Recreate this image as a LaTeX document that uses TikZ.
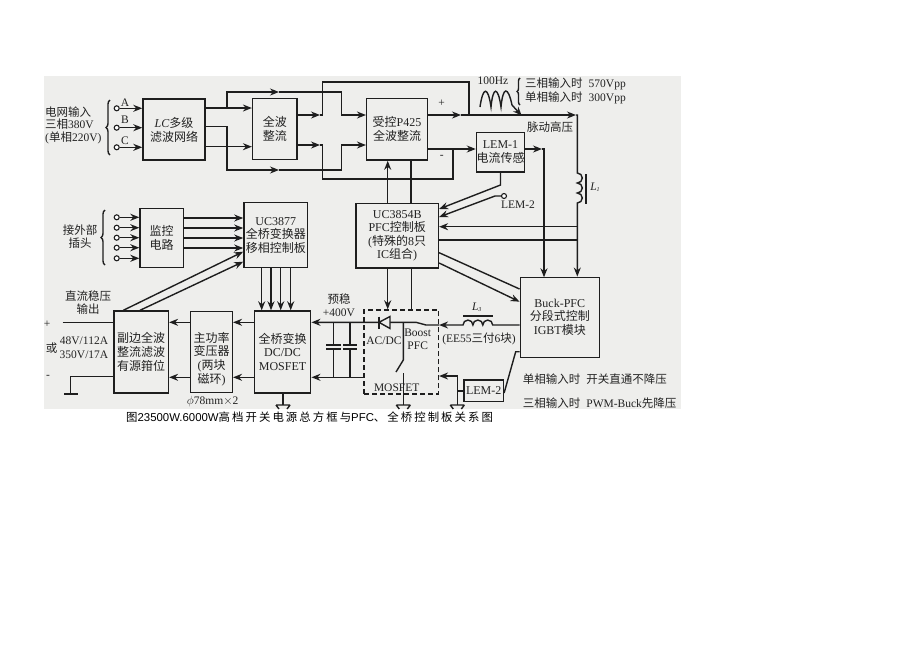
\documentclass[tikz,border=0pt]{standalone}
\usepackage{fontspec}
\setmainfont{Liberation Serif}
\newfontfamily\cjk{Noto Sans CJK SC}
\newfontfamily\capcjk[LetterSpace=18]{Noto Sans CJK SC}
\newfontfamily\capfont{Liberation Sans}
\usepackage{xcolor}
\usepackage{tikz}
\usetikzlibrary{arrows.meta, decorations.pathreplacing}
\definecolor{panelc}{HTML}{EEEEEC}
\definecolor{inkc}{HTML}{1E1E1E}
\definecolor{textc}{HTML}{222222}

\begin{document}
\begin{tikzpicture}[x=1pt, y=-1pt, >={Stealth[length=9pt,width=7pt]}]
\tikzstyle{blockbox}=[rectangle, draw=inkc, line width=1.5pt, inner sep=0pt, align=center, text=textc, font=\fontsize{12}{13.6}\selectfont]
\tikzstyle{tag}=[inner sep=0pt, align=center, text=textc, font=\fontsize{11.5}{13}\selectfont]
\tikzstyle{term}=[circle, draw=inkc, line width=1.1pt, fill=white, inner sep=0pt, minimum size=5pt]
\tikzstyle{line}=[draw=inkc, line width=1.4pt]
\tikzstyle{arrow}=[->, line]
\tikzset{gnd/.pic={\draw[line] (-7,0) -- (7,0) (-7,0) -- (-4,4) (7,0) -- (4,4);}}

\useasboundingbox (0,0) rectangle (920,651);
\fill[panelc] (44,76) rectangle (681,409);

\node[blockbox, minimum width=62, minimum height=61] (lc) at (174,129.7) {\textit{LC}{\cjk 多级}\\{\cjk 滤波网络}};
\node[blockbox, minimum width=44.3, minimum height=61.4] (rect) at (274.8,129) {\cjk 全波\\\cjk 整流};
\node[blockbox, minimum width=60.6, minimum height=61.7] (ctrl) at (397,129.2) {{\cjk 受控}P425\\{\cjk 全波整流}};
\node[blockbox, minimum width=47.6, minimum height=39.7] (lemone) at (500.5,152.2) {LEM-1\\{\cjk 电流传感}};
\node[blockbox, minimum width=82.3, minimum height=64.7] (pfcboard) at (397.2,235.7) {UC3854B\\PFC{\cjk 控制板}\\({\cjk 特殊的}8{\cjk 只}\\IC{\cjk 组合})};
\node[blockbox, minimum width=43.3, minimum height=59.4] (monitor) at (161.7,238) {\cjk 监控\\\cjk 电路};
\node[blockbox, minimum width=63.7, minimum height=65] (phase) at (275.8,235.2) {UC3877\\{\cjk 全桥变换器}\\{\cjk 移相控制板}};
\node[blockbox, minimum width=79, minimum height=80] (igbt) at (559.8,317.3) {Buck-PFC\\{\cjk 分段式控制}\\IGBT{\cjk 模块}};
\node[blockbox, minimum width=56.4, minimum height=81.7] (bridge) at (282.5,351.9) {\cjk 全桥变换\\DC/DC\\MOSFET};
\node[blockbox, minimum width=41.6, minimum height=81.4] (trans) at (211.5,352) {\rule{0pt}{24pt}{\cjk 主功率}\\{\cjk 变压器}\\({\cjk 两块}\\{\cjk 磁环})};
\node[blockbox, minimum width=54.3, minimum height=81.7] (second) at (141.2,351.9) {\cjk 副边全波\\\cjk 整流滤波\\{\cjk 有源箝位}};
\node[blockbox, minimum width=39.3, minimum height=21.7] (lemtwo) at (483.7,390.8) {LEM-2};
\node[rectangle, draw=inkc, line width=1.4pt, dash pattern=on 5pt off 3pt, minimum width=74.3, minimum height=84, inner sep=0pt] (dash) at (401.2,352) {};

\node[term] (ina) at (116.7,108.3) {};
\node[term] (inb) at (116.7,127.7) {};
\node[term] (inc) at (116.7,147.3) {};
\node[term] (ext1) at (116.7,217.3) {};
\node[term] (ext2) at (116.7,227.7) {};
\node[term] (ext3) at (116.7,237.7) {};
\node[term] (ext4) at (116.7,247.7) {};
\node[term] (ext5) at (116.7,258.3) {};
\node[term] (lemtwopt) at (504,196) {};

\node[tag, anchor=west] (grid1) at (45,111.7) {\cjk 电网输入};
\node[tag, anchor=west] (grid2) at (45,124.5) {{\cjk 三相}380V};
\node[tag, anchor=west] (grid3) at (45,138) {({\cjk 单相}220V)};
\node[tag] (laba) at (125,103) {A};
\node[tag] (labb) at (125,120) {B};
\node[tag] (labc) at (125,140.7) {C};
\node[tag] (extlab) at (80,237) {\cjk 接外部\\\cjk 插头};
\node[tag] (hz) at (493,80.7) {100Hz};
\node[tag, anchor=west] (vthree) at (525,84) {{\cjk 三相输入时}\hspace{6pt}570Vpp};
\node[tag, anchor=west] (vone) at (525,98) {{\cjk 单相输入时}\hspace{6pt}300Vpp};
\node[tag] (plus) at (441.7,103) {+};
\node[tag] (minus) at (441.7,156.7) {-};
\node[tag] (pulse) at (550,127) {\cjk 脉动高压};
\node[tag] (lsup) at (595,187) {\textit{L}\raisebox{-1pt}{\fontsize{6}{6}\selectfont\textit{1}}};
\node[tag] (lemtwotag) at (518,205) {LEM-2};
\node[tag] (dcout) at (88,303) {\cjk 直流稳压\\\cjk 输出};
\node[tag] (outplus) at (47,324) {+};
\node[tag] (outminus) at (48,376.7) {-};
\node[tag] (outor) at (51.7,348) {\cjk 或};
\node[tag] (outa) at (84,340.7) {48V/112A};
\node[tag] (outb) at (84,355) {350V/17A};
\node[tag] (phi) at (212.7,401) {$\phi$78mm$\times$2};
\node[tag] (preset) at (339,305) {{\cjk 预稳}\\+400V};
\node[tag] (acdc) at (384,340.7) {AC/DC};
\node[tag] (boost) at (417.7,339) {Boost\\PFC};
\node[tag] (mosfet) at (396.7,388) {MOSFET};
\node[tag] (lthree) at (476.7,307) {\textit{L}\raisebox{-1pt}{\fontsize{6}{6}\selectfont\textit{3}}};
\node[tag] (core) at (479,339) {(EE55{\cjk 三付}6{\cjk 块})};
\node[tag, anchor=west] (oneph) at (522.7,379.3) {{\cjk 单相输入时}\hspace{6pt}{\cjk 开关直通不降压}};
\node[tag, anchor=west] (threeph) at (522.7,402.7) {{\cjk 三相输入时}\hspace{6pt}PWM-Buck{\cjk 先降压}};
\node[anchor=west, inner sep=0pt, text=black, font=\fontsize{11.4}{13}\selectfont] (cap) at (126,417) {{\capcjk 图}{\capfont 23500W.6000W}{\capcjk 高档开关电源总方框与}{\capfont PFC}{\capcjk 、全桥控制板关系图}};

\coordinate (busa) at (227,108);
\coordinate (tipa) at (279,92);
\coordinate (tipb) at (279,170);
\coordinate (tipc) at (320,115);
\coordinate (tipd) at (320,145);
\coordinate (tipe) at (461,115);
\coordinate (tipf) at (576,115);
\coordinate (tipg) at (542,149);
\coordinate (coiltop) at (577.3,173);
\coordinate (coilright) at (492.7,325);

\draw[line, decorate, decoration={brace, amplitude=4pt}] (110,155) -- (110,100);
\draw[line, decorate, decoration={brace, amplitude=4pt}] (105,265) -- (105,210);
\draw[line, decorate, decoration={brace, amplitude=3pt}] (520,105) -- (520,78);

\draw[arrow] (ina) -- (lc.west|-ina);
\draw[arrow] (inb) -- (lc.west|-inb);
\draw[arrow] (inc) -- (lc.west|-inc);
\draw[arrow] (lc.east|-0,108) -- (rect.west|-0,108);
\draw[arrow] (busa) |- (tipa);
\draw[arrow] (tipa) -| (341.7,115) -- (ctrl.west|-0,115);
\draw[arrow] (lc.east|-0,126.7) -| (227,170) -- (tipb);
\draw[arrow] (tipb) -| (341.7,145) -- (ctrl.west|-0,145);
\draw[arrow] (lc.east|-0,146.7) -- (rect.west|-0,146.7);
\draw[arrow] (rect.east|-0,115) -- (tipc);
\draw[line] (tipc) -| (322.7,82) -| (469,115);
\draw[arrow] (rect.east|-0,145) -- (tipd);
\draw[line] (tipd) -| (322.7,179) -| (453,149);
\draw[arrow] (ctrl.east|-0,115) -- (tipe);
\draw[arrow] (tipe) -- (tipf);
\draw[arrow] (tipf) -| (coiltop) arc[start angle=90, end angle=-90, radius=5pt] arc[start angle=90, end angle=-90, radius=5pt] arc[start angle=90, end angle=-90, radius=5pt] -- (coiltop|-igbt.north);
\draw[line, line width=1.7pt] (586,174) -- (586,204);
\draw[arrow] (ctrl.east|-0,149) -- (lemone.west|-0,149);
\draw[arrow] (lemone.east|-0,149) -- (tipg);
\draw[arrow] (tipg) -| (544,277.3);
\draw[arrow] (lemone.south) -- (500.5,185) -- (pfcboard.east|-0,209);
\draw[arrow] (lemtwopt) -- (495,196) -- (pfcboard.east|-0,217);
\draw[arrow] (coiltop|-0,226.7) -- (pfcboard.east|-0,226.7);
\draw[line] (pfcboard.east|-0,240) -- (coiltop|-0,240);
\draw[line] (pfcboard.east|-0,252.7) -- (igbt.west|-0,289);
\draw[arrow] (pfcboard.east|-0,263) -- (igbt.west|-0,301.7);
\draw[arrow] (387.7,0|-pfcboard.north) -- (387.7,0|-ctrl.south);
\draw[line] (411,0|-pfcboard.north) -- (411,0|-ctrl.south);
\draw[arrow] (387.7,0|-pfcboard.south) -- (387.7,0|-dash.north);
\draw[line] (411.7,0|-pfcboard.south) -- (411.7,0|-dash.north);

\draw[arrow] (ext1) -- (monitor.west|-ext1);
\draw[arrow] (ext2) -- (monitor.west|-ext2);
\draw[arrow] (ext3) -- (monitor.west|-ext3);
\draw[arrow] (ext4) -- (monitor.west|-ext4);
\draw[arrow] (ext5) -- (monitor.west|-ext5);
\draw[arrow] (monitor.east|-0,218) -- (phase.west|-0,218);
\draw[arrow] (monitor.east|-0,228) -- (phase.west|-0,228);
\draw[arrow] (monitor.east|-0,238) -- (phase.west|-0,238);
\draw[arrow] (monitor.east|-0,248) -- (phase.west|-0,248);
\draw[arrow] (261.7,0|-phase.south) -- (261.7,0|-bridge.north);
\draw[arrow] (271,0|-phase.south) -- (271,0|-bridge.north);
\draw[arrow] (280.7,0|-phase.south) -- (280.7,0|-bridge.north);
\draw[arrow] (290.7,0|-phase.south) -- (290.7,0|-bridge.north);
\draw[arrow] (123.3,0|-second.north) -- (phase.west|-0,251.7);
\draw[arrow] (140,0|-second.north) -- (phase.west|-0,261.7);

\draw[arrow] (bridge.west|-0,322.3) -- (trans.east|-0,322.3);
\draw[arrow] (bridge.west|-0,377.3) -- (trans.east|-0,377.3);
\draw[arrow] (trans.west|-0,322.3) -- (second.east|-0,322.3);
\draw[arrow] (trans.west|-0,377.3) -- (second.east|-0,377.3);
\draw[line] (62.7,322.3) -- (second.west|-0,322.3);
\draw[line] (second.west|-0,376.7) -| (70.7,394);
\draw[line, line width=1.7pt] (64,394) -- (78,394);
\draw[line] (283,0|-bridge.south) -- (283,405) pic {gnd};

\draw[arrow] (igbt.west|-0,325) -- (coilright) arc[start angle=0, end angle=180, radius=4.95pt] arc[start angle=0, end angle=180, radius=4.95pt] arc[start angle=0, end angle=180, radius=4.95pt] -- (dash.east|-0,325);
\draw[line, line width=1.7pt] (463,316) -- (492.7,316);
\draw[arrow] (dash.east|-0,325) -- (426,325) -- (416,322.3) -- (bridge.east|-0,322.3);
\draw[arrow] (dash.west|-0,377.3) -- (bridge.east|-0,377.3);
\draw[line] (333.3,322.3) -- (333.3,345) (333.3,349) -- (333.3,377.3);
\draw[line] (350,322.3) -- (350,345) (350,349) -- (350,377.3);
\draw[line, line width=1.9pt] (326,345) -- (340.6,345) (326,349) -- (340.6,349);
\draw[line, line width=1.9pt] (343,345) -- (357,345) (343,349) -- (357,349);
\draw[line, fill=panelc] (390,316.5) -- (390,328.5) -- (379,322.3) -- cycle;
\draw[line, line width=1.5pt] (379,316.5) -- (379,328.5);
\draw[line] (403.3,322.3) -- (403.3,360) -- (396,372);
\draw[line] (403.3,373) -- (403.3,405) pic {gnd};
\draw[arrow] (457.3,405) -- (457.3,376) -- (dash.east|-0,376);
\draw[line] (457.3,405) pic {gnd};
\draw[line] (lemtwo.west) -- (457.3,0|-lemtwo.west);
\draw[line] (lemtwo.east|-0,393) -- (515.7,351.7) -- (igbt.west|-0,351.7);

\draw[line] (480,107) .. controls (483,86) and (488,86) .. (491,107) .. controls (493,86) and (498,86) .. (501,107) .. controls (503,86) and (508,86) .. (512,105);
\draw[arrow] (512,105) -- (521.7,115.7);
\end{tikzpicture}
\end{document}
